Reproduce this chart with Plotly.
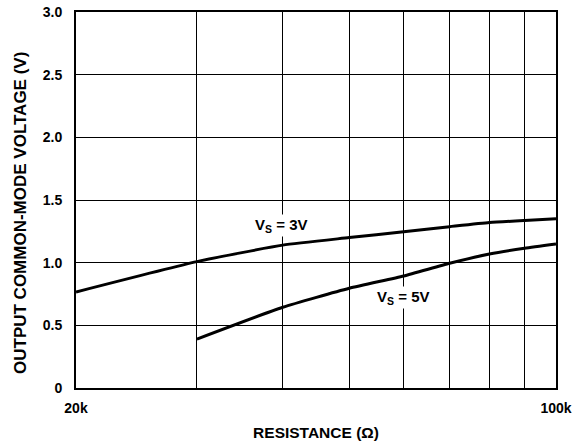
import math
import plotly.graph_objects as go

# Resistance (ohms) and output common-mode voltage (V)
r_vs3 = [20000, 30000, 40000, 50000, 60000, 70000, 80000, 90000, 100000]
v_vs3 = [0.766, 1.008, 1.14, 1.20, 1.247, 1.287, 1.32, 1.337, 1.35]

r_vs5 = [30000, 40000, 50000, 60000, 70000, 80000, 90000, 100000]
v_vs5 = [0.39, 0.644, 0.796, 0.894, 0.995, 1.069, 1.115, 1.149]

x_tickvals = [20000, 30000, 40000, 50000, 60000, 70000, 80000, 90000, 100000]
x_ticktext = ["20k", "", "", "", "", "", "", "", "100k"]
y_tickvals = [0, 0.5, 1.0, 1.5, 2.0, 2.5, 3.0]
y_ticktext = ["0", "0.5", "1.0", "1.5", "2.0", "2.5", "3.0"]

font_family = "Liberation Sans, Arial, sans-serif"

fig = go.Figure()
for xs, ys in ((r_vs3, v_vs3), (r_vs5, v_vs5)):
    fig.add_trace(go.Scatter(x=xs, y=ys, mode="lines",
                             line=dict(color="black", width=3, shape="spline", smoothing=0.5),
                             showlegend=False, hoverinfo="skip"))

# Curve labels (white box breaks the grid behind the text)
label_font = dict(family=font_family, size=15, color="black", weight="bold")
fig.add_annotation(x=math.log10(39800), y=1.295, xref="x", yref="y",
                   text="V<sub>S</sub> = 3V", showarrow=False, font=label_font,
                   bgcolor="white", borderpad=1)
fig.add_annotation(x=math.log10(59800), y=0.725, xref="x", yref="y",
                   text="V<sub>S</sub> = 5V", showarrow=False, font=label_font,
                   bgcolor="white", borderpad=1)

# Vertical axis title, placed a little below the plot's mid-height
fig.add_annotation(x=-0.117, y=0.465, xref="paper", yref="paper",
                   text="OUTPUT COMMON-MODE VOLTAGE (V)", textangle=-90,
                   showarrow=False, xanchor="center", yanchor="middle",
                   font=dict(family=font_family, size=17, color="black", weight="bold"))

tick_font = dict(family=font_family, size=14, color="black", weight="bold")

fig.update_xaxes(type="log", range=[math.log10(20000), math.log10(100000)],
                 tickvals=x_tickvals, ticktext=x_ticktext,
                 showgrid=True, gridcolor="black", gridwidth=1.3,
                 showline=True, linecolor="black", linewidth=2, mirror=True,
                 ticks="", ticklabelstandoff=6, tickfont=tick_font,
                 title=dict(text="RESISTANCE (Ω)", standoff=12,
                            font=dict(family=font_family, size=15.5, color="black", weight="bold")),
                 automargin=False, zeroline=False)
fig.update_yaxes(range=[0, 3.0], tickvals=y_tickvals, ticktext=y_ticktext,
                 showgrid=True, gridcolor="black", gridwidth=1.3,
                 showline=True, linecolor="black", linewidth=2, mirror=True,
                 ticks="", ticklabelstandoff=9, tickfont=tick_font,
                 automargin=False, zeroline=False)

fig.update_layout(width=588, height=446,
                  margin=dict(l=76, r=32, t=12, b=58),
                  paper_bgcolor="white", plot_bgcolor="white")

fig.write_html("out.html")
